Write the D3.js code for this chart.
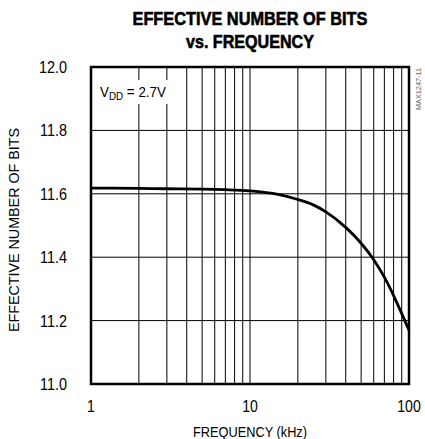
<!DOCTYPE html>
<html><head><meta charset="utf-8">
<script src="https://cdn.jsdelivr.net/npm/d3@7"></script>
<style>
body{margin:0;background:#fff;}
text{font-family:"Liberation Sans",Arial,sans-serif;}
</style></head>
<body><svg id="c" width="425" height="439"></svg>
<script>
const freq = [1,2,3,5,7,10,15,20,25,30,40,50,60,70,80,90,100];
const enob = [11.618,11.617,11.616,11.615,11.613,11.609,11.598,11.582,11.565,11.543,11.494,11.444,11.392,11.337,11.279,11.222,11.170];
const xTicks = [1,10,100];
const yTicks = [11.0,11.2,11.4,11.6,11.8,12.0];
const titleLines = ["EFFECTIVE NUMBER OF BITS","vs. FREQUENCY"];

const L=91,R=409,T=67,B=384;
const svg=d3.select("#c");
const x=d3.scaleLog().domain([1,100]).range([L,R]);
const y=d3.scaleLinear().domain([11,12]).range([B,T]);

const minor=[];
for(const d of [1,10]) for(let k=2;k<=9;k++) minor.push(d*k);
minor.push(10);
svg.append("g").selectAll("line").data(minor).join("line")
 .attr("x1",d=>x(d)).attr("x2",d=>x(d)).attr("y1",T).attr("y2",B)
 .attr("stroke","#000").attr("stroke-width",1);
svg.append("g").selectAll("line").data(yTicks.slice(1,-1)).join("line")
 .attr("x1",L).attr("x2",R).attr("y1",d=>y(d)).attr("y2",d=>y(d))
 .attr("stroke","#000").attr("stroke-width",1);

svg.append("rect").attr("x",L+2).attr("y",80).attr("width",78).attr("height",24).attr("fill","#fff");
const lab=svg.append("text").attr("x",100).attr("y",97).attr("font-size",15).attr("fill","#000")
 .attr("textLength",66).attr("lengthAdjust","spacingAndGlyphs");
lab.append("tspan").text("V");
lab.append("tspan").text("DD").attr("font-size",11).attr("dy",3);
lab.append("tspan").text(" = 2.7V").attr("dy",-3);

const line=d3.line().x((d,i)=>x(freq[i])).y(d=>y(d)).curve(d3.curveMonotoneX);
svg.append("path").attr("d",line(enob)).attr("fill","none").attr("stroke","#000").attr("stroke-width",2.8);

svg.append("rect").attr("x",L).attr("y",T).attr("width",R-L).attr("height",B-T)
 .attr("fill","none").attr("stroke","#000").attr("stroke-width",2.5);

function cond(g,px,py,sx){return g.append("g").attr("transform",`translate(${px},${py}) scale(${sx},1)`).append("text");}

yTicks.forEach(d=>{
  cond(svg,67,y(d)+6,0.9).attr("text-anchor","end").attr("font-size",16).text(d.toFixed(1));
});
xTicks.forEach(d=>{
  cond(svg,x(d),412,0.88).attr("text-anchor","middle").attr("font-size",16).text(d);
});
svg.append("text").attr("x",250).attr("y",437).attr("text-anchor","middle").attr("font-size",15)
 .attr("textLength",114).attr("lengthAdjust","spacingAndGlyphs").text("FREQUENCY (kHz)");
svg.append("text").attr("transform","translate(19,230) rotate(-90)").attr("text-anchor","middle").attr("font-size",14)
 .attr("textLength",204).attr("lengthAdjust","spacingAndGlyphs").text("EFFECTIVE NUMBER OF BITS");
svg.append("text").attr("transform","translate(421,68) rotate(-90)").attr("text-anchor","end").attr("font-size",8).attr("fill","#666")
 .attr("textLength",42).attr("lengthAdjust","spacingAndGlyphs").text("MAX1247-11");

const tw=[235,128];
svg.append("g").selectAll("text").data(titleLines).join("text")
 .attr("x",250).attr("y",(d,i)=>25+i*23).attr("text-anchor","middle")
 .attr("font-size",19).attr("font-weight","bold").attr("stroke","#000").attr("stroke-width",0.6)
 .attr("textLength",(d,i)=>tw[i]).attr("lengthAdjust","spacingAndGlyphs").text(d=>d);
</script></body></html>
